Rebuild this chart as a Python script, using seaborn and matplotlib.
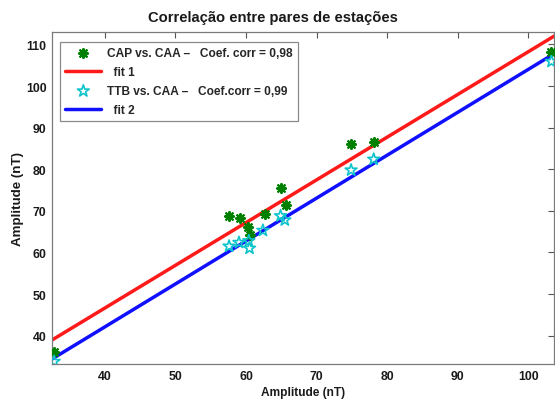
import numpy as np
import pandas as pd
import matplotlib
matplotlib.use("Agg")
import matplotlib.pyplot as plt
import seaborn as sns

# CAP vs. CAA amplitude pairs (nT)
cap_x = [32.8, 57.6, 59.1, 60.3, 60.5, 62.7, 64.9, 65.6, 74.9, 78.1, 103.3]
cap_y = [36.0, 68.8, 68.4, 66.2, 64.2, 69.2, 75.5, 71.3, 86.0, 86.6, 108.2]
# TTB vs. CAA amplitude pairs (nT)
ttb_x = [32.8, 57.6, 59.0, 60.5, 60.4, 62.4, 64.9, 65.5, 74.9, 78.1, 103.3]
ttb_y = [33.8, 61.5, 62.4, 61.0, 62.8, 65.3, 68.8, 67.8, 79.8, 82.4, 105.9]

labels = ["CAP vs. CAA \u2013   Coef. corr = 0,98", "  fit 1",
          "TTB vs. CAA \u2013   Coef.corr = 0,99", "  fit 2"]
title = "Correla\u00e7\u00e3o entre pares de esta\u00e7\u00f5es"
xticks = [40, 50, 60, 70, 80, 90, 100]
yticks = [40, 50, 60, 70, 80, 90, 100, 110]
xlim = (32.5, 103.7)
ylim = (33.2, 113.0)

sns.set_theme(style="white")
plt.rcParams["font.family"] = ["Liberation Sans", "DejaVu Sans"]
plt.rcParams["font.weight"] = "bold"

fig = plt.figure(figsize=(5.55, 4.02), dpi=100)
ax = fig.add_axes([0.0937, 0.092, 0.905, 0.826])

# least-squares fits across the full x range
xx = np.linspace(xlim[0], xlim[1], 50)
p1 = np.polyfit(cap_x, cap_y, 1)
p2 = np.polyfit(ttb_x, ttb_y, 1)
fit1 = pd.DataFrame({"x": xx, "y": np.polyval(p1, xx)})
fit2 = pd.DataFrame({"x": xx, "y": np.polyval(p2, xx)})
cap = pd.DataFrame({"x": cap_x, "y": cap_y})
ttb = pd.DataFrame({"x": ttb_x, "y": ttb_y})

sns.scatterplot(data=cap, x="x", y="y", ax=ax, marker=(8, 2, 0), s=42,
                color="#008000", edgecolor="#0a7f0a", linewidth=1.5,
                label=labels[0], zorder=3)
sns.lineplot(data=fit1, x="x", y="y", ax=ax, color="#ff1a1a", lw=2.5,
             label=labels[1], zorder=2)
sns.scatterplot(data=ttb, x="x", y="y", ax=ax, marker="*", s=80,
                facecolor="none", edgecolor="#10c4cc", linewidth=1.2,
                label=labels[2], zorder=3)
sns.lineplot(data=fit2, x="x", y="y", ax=ax, color="#1010ff", lw=2.5,
             label=labels[3], zorder=2)

ax.set_xlim(*xlim)
ax.set_ylim(*ylim)
ax.set_xticks(xticks)
ax.set_yticks(yticks)
ax.tick_params(direction="in", length=4, width=0.8, color="#555555",
               labelsize=8.8, labelcolor="#1a1a1a", top=True, right=True,
               pad=4)
for lab in ax.get_xticklabels() + ax.get_yticklabels():
    lab.set_fontweight("bold")
for sp in ax.spines.values():
    sp.set_color("#7a7a7a")
    sp.set_linewidth(0.9)

ax.set_xlabel("Amplitude (nT)", fontsize=8.6, fontweight="bold",
              color="#1a1a1a", labelpad=3)
ax.set_ylabel("Amplitude (nT)", fontsize=9.6, fontweight="bold",
              color="#1a1a1a", labelpad=1)
fig.text(0.492, 0.955, title, fontsize=10.6, fontweight="bold",
         color="#1a1a1a", ha="center", va="center")

leg = ax.legend(loc="upper left", bbox_to_anchor=(0.016, 0.97),
                borderaxespad=0, fancybox=False, framealpha=1,
                edgecolor="#8a8a8a", handlelength=3.0,
                labelspacing=0.58, borderpad=0.45, handletextpad=0.5,
                prop={"weight": "bold", "size": 8.6})
leg.get_frame().set_linewidth(0.9)

fig.savefig("out.png", dpi=100)
